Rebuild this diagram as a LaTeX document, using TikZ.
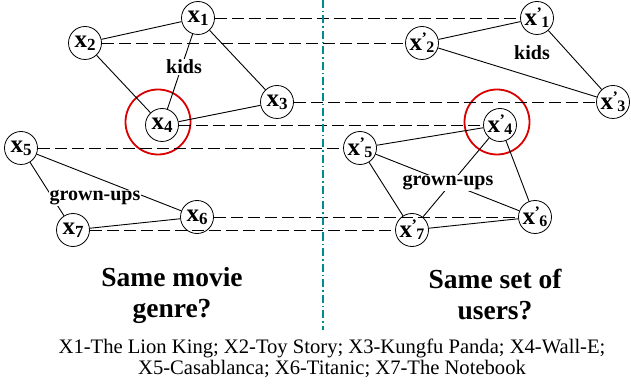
\documentclass[tikz,border=0pt]{standalone}
\usepackage{fontspec}
\setmainfont{Liberation Serif}
\newcommand{\mv}[1]{\textbf{x}{\fontsize{17}{17}\selectfont\raisebox{-0.35ex}{\textbf{#1}}}}
\newcommand{\mvp}[1]{\textbf{x}{\fontsize{16}{16}\selectfont\kern-0.5pt\raisebox{0.85ex}{\textbf{’}}\kern-0.7pt\raisebox{-0.35ex}{\textbf{#1}}}}
\begin{document}
\begin{tikzpicture}[x=1pt,y=-1pt,
  movie/.style={circle,draw,line width=0.8pt,fill=white,inner sep=0pt,minimum size=33pt,
    font=\fontsize{25}{25}\selectfont},
  group/.style={fill=white,inner sep=1pt,font=\fontsize{20}{20}\selectfont\bfseries},
  link/.style={line width=0.9pt},
  match/.style={line width=0.9pt,dash pattern=on 12pt off 5pt},
  pick/.style={circle,draw=red!85!black,line width=1.8pt,minimum size=65pt,inner sep=0pt},
  question/.style={align=center,font=\fontsize{27.5}{31}\selectfont\bfseries}]
\useasboundingbox (0,0) rectangle (631,387);
\definecolor{split}{RGB}{0,140,140}
% left
\node[pick] (r1) at (158,122) {};
\node[pick] (r2) at (497,122) {};
\node[movie] (a1) at (198,18) {\mv1};
\node[movie] (a2) at (85,43) {\mv2};
\node[movie] (a3) at (277,102) {\mv3};
\node[movie] (a4) at (162,125) {\mv4};
\node[movie] (a5) at (21,148) {\mv5};
\node[movie] (a6) at (197,217) {\mv6};
\node[movie] (a7) at (73,230) {\mv7};
% right
\node[movie] (b1) at (537,18) {\mvp1};
\node[movie] (b2) at (422,43) {\mvp2};
\node[movie] (b3) at (613,102) {\mvp3};
\node[movie] (b4) at (500,125) {\mvp4};
\node[movie] (b5) at (360,148) {\mvp5};
\node[movie] (b6) at (535,217) {\mvp6};
\node[movie] (b7) at (412,230) {\mvp7};
\draw[link] (a1)--(a2) (a1)--(a3) (a2)--(a4) (a3)--(a4) (a1)--(a4);
\draw[link] (a5)--(a7) (a7)--(a6) (a5)--(a6);
\draw[link] (b1)--(b2) (b1)--(b3) (b2)--(b3);
\draw[link] (b4)--(b5) (b4)--(b6) (b5)--(b7) (b7)--(b6) (b5)--(b6) (b4)--(b7);
\node[group] (k1) at (184,67) {kids};
\node[group] (g1) at (95,198) {grown-ups};
\node[group,fill=none] (k2) at (532,53) {kids};
\node[group] (g2) at (448,183) {grown-ups};
\draw[match] (a1)--(b1) (a2)--(b2) (a3)--(b3) (a4)--(b4) (a5)--(b5) (a6)--(b6) (a7)--(b7);
\coordinate (top) at (323,0);
\coordinate (bot) at (323,330);
\draw[split,line width=1.5pt,dash pattern=on 8pt off 3pt on 1.5pt off 3pt] (top)--(bot);
\node[question] (q1) at (172,295) {Same movie\\genre?};
\node[question] (q2) at (495,295) {Same set of\\users?};
\node[align=center,font=\fontsize{20.6}{21}\selectfont] (cap) at (332,358)
  {X1-The Lion King; X2-Toy Story; X3-Kungfu Panda; X4-Wall-E;\\X5-Casablanca; X6-Titanic; X7-The Notebook};
\end{tikzpicture}
\end{document}
